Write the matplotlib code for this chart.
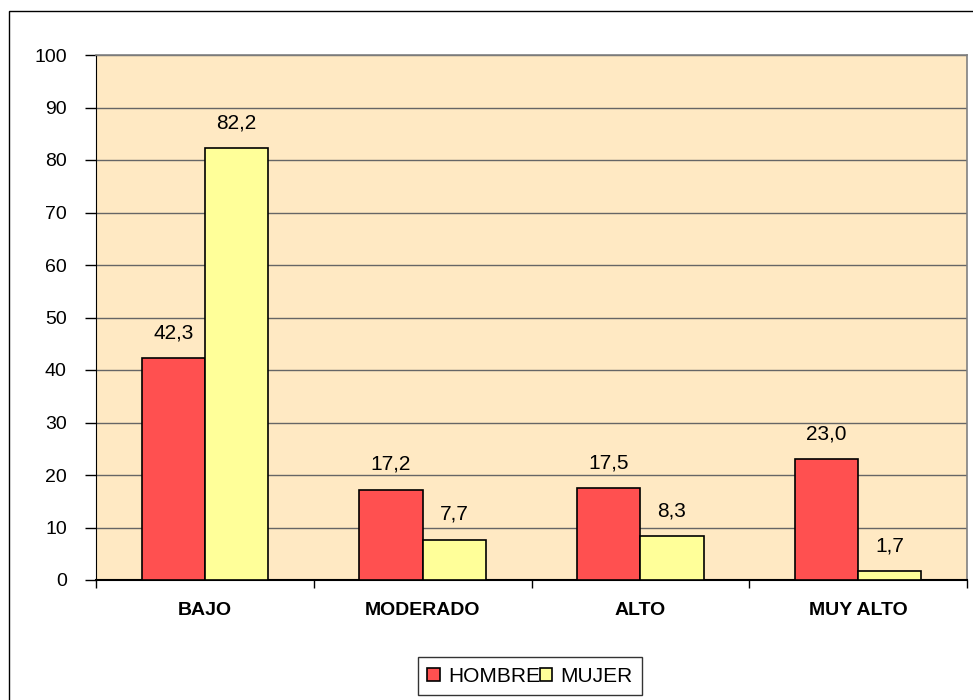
import numpy as np
import matplotlib
matplotlib.use("Agg")
import matplotlib.pyplot as plt
from matplotlib.patches import Rectangle

plt.rcParams['font.family'] = ['Liberation Sans', 'DejaVu Sans']

categorias = ["BAJO", "MODERADO", "ALTO", "MUY ALTO"]
hombre = [42.3, 17.2, 17.5, 23.0]
mujer = [82.2, 7.7, 8.3, 1.7]
yticks = [0, 10, 20, 30, 40, 50, 60, 70, 80, 90, 100]

fs = 14

fig = plt.figure(figsize=(9.73, 7.0), dpi=100)
fig.patches.append(Rectangle((9/973, -0.01), 1.0, 0.984 + 0.01, transform=fig.transFigure,
                             fill=False, edgecolor='black', linewidth=1.0))
ax = fig.add_axes([96/973, 120/700, 871/973, 525/700])
ax.set_facecolor('#FFE9C3')

x = np.arange(len(categorias))
w = 0.29
b1 = ax.bar(x - w/2, hombre, w, color='#FF5050', edgecolor='black', linewidth=1.2,
            label='HOMBRE', zorder=3)
b2 = ax.bar(x + w/2, mujer, w, color='#FFFF99', edgecolor='black', linewidth=1.2,
            label='MUJER', zorder=3)

# etiquetas de valor
for bars, vals in ((b1, hombre), (b2, mujer)):
    for r, v in zip(bars, vals):
        ax.text(r.get_x() + r.get_width()/2, v + 4.8, f"{v:.1f}".replace('.', ','),
                ha='center', va='center', fontsize=15)

ax.set_xlim(-0.5, len(categorias) - 0.5)
ax.set_ylim(0, 100)
ax.set_yticks(yticks)
ax.set_yticklabels([str(t) for t in yticks], fontsize=fs)
ax.yaxis.grid(True, color='#666666', linewidth=1.0, zorder=1)
ax.tick_params(axis='y', length=8, width=1, pad=13, direction='out')

ax.set_xticks(np.arange(len(categorias) + 1) - 0.5)
ax.set_xticklabels([])
ax.tick_params(axis='x', length=6, width=1, direction='out')
for i, c in enumerate(categorias):
    ax.text(i, -5.8, c, ha='center', va='center', fontsize=fs, fontweight='bold')

for s in ['top', 'right']:
    ax.spines[s].set_color('#808080')
    ax.spines[s].set_linewidth(1.2)
ax.spines['left'].set_color('black')
ax.spines['bottom'].set_color('black')
ax.spines['bottom'].set_linewidth(1.5)

leg = fig.legend(loc='center', bbox_to_anchor=(530/973, 1 - 676/700), ncol=2,
                 fontsize=15, frameon=True, fancybox=False, edgecolor='black',
                 handlelength=0.6, handleheight=0.6, handletextpad=0.4,
                 columnspacing=0.0, borderpad=0.45, borderaxespad=0)
leg.get_frame().set_linewidth(1.0)

fig.savefig('out.png', dpi=100)
